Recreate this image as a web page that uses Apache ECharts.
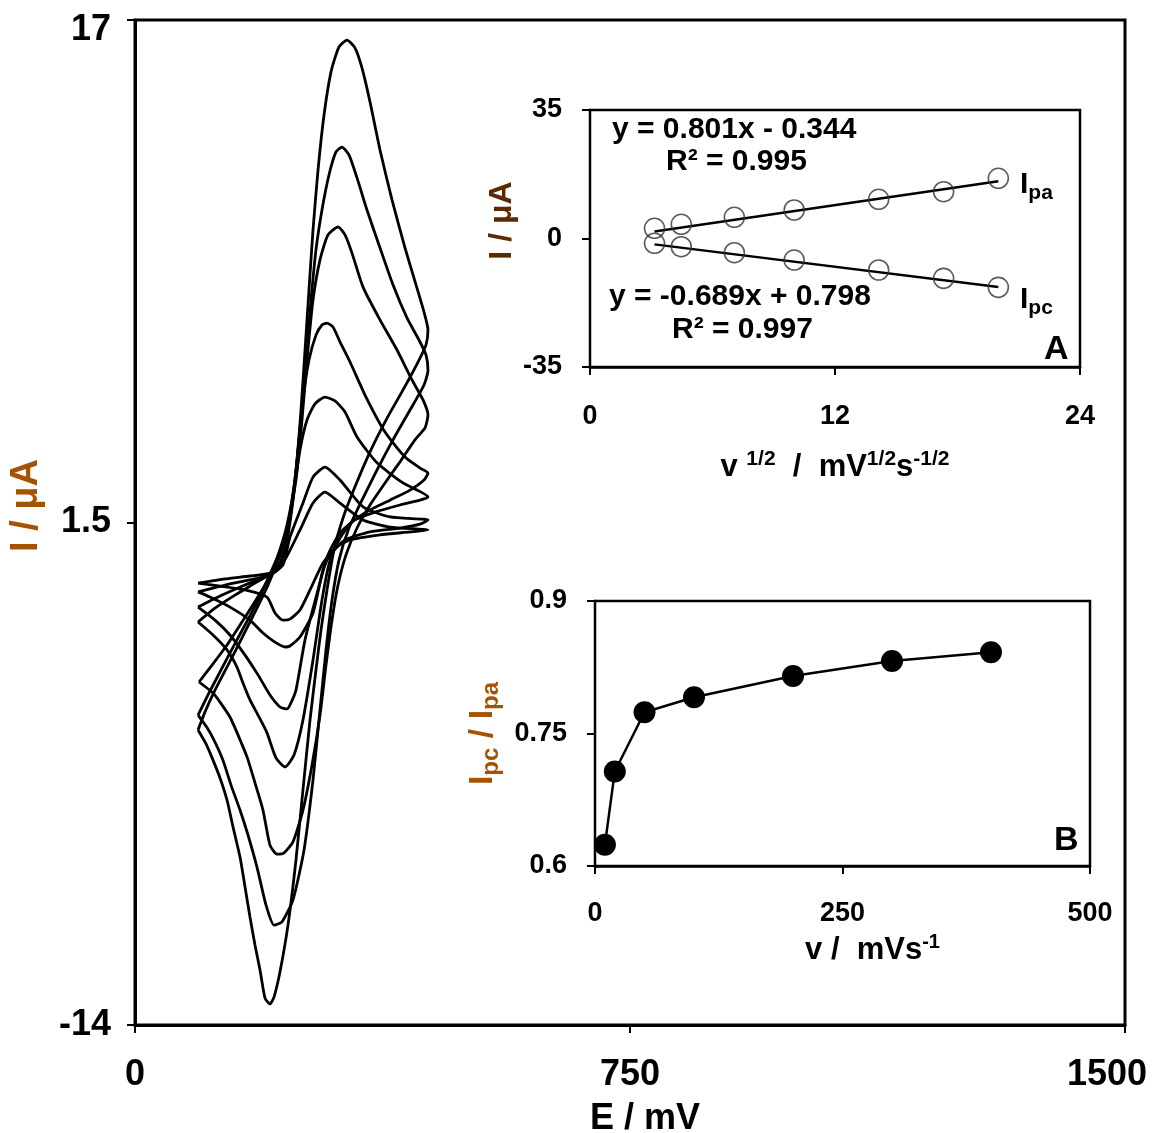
<!DOCTYPE html>
<html>
<head>
<meta charset="utf-8">
<title>CV</title>
<script src="https://cdn.jsdelivr.net/npm/echarts@6/dist/echarts.min.js"></script>
<style>html,body{margin:0;padding:0;background:#fff}#chart{width:1156px;height:1133px}</style>
</head>
<body>
<div id="chart"></div>
<script>
// main CV curves, [E / mV, I / uA], one closed loop per scan rate
var cv1 = [[95.5,-0.37],[136.4,-0.24],[174.2,-0.15],[204.5,-0.06],[224.2,0.25],[250,1.27],[269.7,2.10],[287.9,2.44],[310.6,2.10],[345.5,1.58],[386.4,1.36],[443.9,1.27],
  [416.7,1.21],[371.2,1.12],[325.8,0.96],[303,0.71],[284.8,0.25],[265.2,-0.58],[250,-1.20],[234.8,-1.48],[224.2,-1.51],[212.1,-1.29],[200,-0.80],[166.7,-0.58],[128.8,-0.46],[95.5,-0.37]];
var cv2 = [[95.5,-0.64],[136.4,-0.43],[174.2,-0.27],[204.5,-0.12],[224.2,0.19],[234.8,1.05],[254.5,2.10],[269.7,2.90],[287.9,3.21],[310.6,2.81],[345.5,1.98],[386.4,1.67],[443.9,1.58],
  [431.8,1.45],[401.5,1.33],[356.1,1.21],[318.2,0.96],[295.5,0.50],[284.8,0.04],[269.7,-1.29],[250,-2.03],[234.8,-2.31],[227.3,-2.34],[212.1,-2.19],[193.9,-1.91],[174.2,-1.51],[143.9,-1.11],[113.6,-0.80],[95.5,-0.64]];
var cv3 = [[95.5,-1.11],[128.8,-0.77],[166.7,-0.43],[197,-0.18],[215.2,0.04],[227.3,0.65],[239.4,2.29],[250,3.74],[260.6,4.66],[272.7,5.16],[287.9,5.37],[303,5.25],[318.2,4.91],[336.4,4.14],[366.7,3.34],[406.1,2.72],[443.9,2.29],
  [431.8,2.19],[401.5,2.04],[363.6,1.82],[333.3,1.58],[310.6,1.18],[292.4,0.50],[277.3,-0.58],[257.6,-2.12],[243.9,-3.67],[234.8,-4.13],[230.3,-4.25],[219.7,-4.19],[204.5,-3.82],[186.4,-3.20],[166.7,-2.59],[143.9,-1.97],[121.2,-1.51],[95.5,-1.11]];
var cv4 = [[95.5,-1.57],[121.2,-1.14],[151.5,-0.74],[181.8,-0.37],[204.5,-0.09],[219.7,0.25],[230.3,0.96],[239.4,2.19],[247,3.74],[254.5,5.28],[263.6,6.51],[274.2,7.28],[283.3,7.59],[290.9,7.65],[300,7.53],[310.6,7.07],[325.8,6.45],[350,5.37],[378.8,4.29],[409.1,3.52],[431.8,3.18],[443.9,3.03],
  [437.9,2.81],[416.7,2.50],[386.4,2.19],[356.1,1.89],[328.8,1.52],[310.6,1.02],[295.5,0.34],[283.3,-0.89],[269.7,-2.74],[254.5,-4.59],[240.9,-5.67],[227.3,-6.04],[213.6,-5.76],[200,-4.99],[186.4,-4.44],[174.2,-3.97],[163.6,-3.45],[154.5,-2.96],[139.4,-2.43],[118.2,-1.97],[95.5,-1.57]];
var cv5 = [[97,-3.42],[116.7,-2.90],[139.4,-2.28],[162.1,-1.57],[183.3,-0.89],[201.5,-0.27],[218.2,0.41],[231.8,1.42],[243.9,2.81],[253,4.66],[260.6,6.51],[269.7,8.36],[280.3,9.60],[292.4,10.37],[307.6,10.62],[318.2,10.37],[328.8,9.81],[345.5,8.76],[371.2,7.75],[397,6.82],[419.7,5.90],[436.4,5.28],[443.9,4.82],
  [439.4,4.42],[424.2,4.05],[401.5,3.37],[378.8,2.72],[356.1,2.04],[336.4,1.33],[319.7,0.50],[307.6,-0.43],[298.5,-1.51],[289.4,-2.90],[280.3,-4.44],[268.2,-5.98],[254.5,-7.37],[239.4,-8.35],[225.8,-8.69],[215.2,-8.73],[204.5,-8.45],[193.9,-7.37],[181.8,-6.53],[169.7,-5.73],[156,-5.05],[143.9,-4.50],[128.8,-4.04],[118.2,-3.76],[97,-3.42]];
var cv6 = [[95.5,-4.44],[110.6,-3.82],[131.8,-2.99],[154.5,-2.12],[177.3,-1.26],[197,-0.43],[215.2,0.41],[230.3,1.42],[242.4,2.81],[251.5,4.66],[259.1,6.51],[266.7,8.36],[274.2,9.91],[283.3,11.14],[293.9,12.22],[304.5,12.93],[313.6,13.08],[324.2,12.84],[336.4,12.13],[351.5,11.14],[369.7,10.06],[390.9,8.83],[412.1,7.81],[430.3,7.13],[440.9,6.67],[443.9,6.20],
  [437.9,5.74],[416.7,4.97],[390.9,4.05],[366.7,3.12],[343.9,2.19],[324.2,1.33],[309.1,0.34],[298.5,-0.89],[289.4,-2.43],[280.3,-4.28],[269.7,-6.44],[256.1,-8.60],[239.4,-10.14],[222.7,-10.82],[210.6,-10.92],[198.5,-10.30],[184.8,-9.13],[171.2,-8.14],[159.1,-7.37],[145.5,-6.60],[133.3,-5.83],[119.7,-5.21],[108.6,-4.81],[95.5,-4.44]];
var cv7 = [[95.5,-4.90],[106.1,-4.34],[121.2,-3.67],[140.9,-2.90],[162.1,-2.06],[183.3,-1.20],[201.5,-0.43],[219.7,0.50],[233.3,1.58],[243.9,3.12],[251.5,4.97],[257.6,6.82],[263.6,8.67],[269.7,10.52],[277.3,12.37],[286.4,14.07],[297,15.40],[309.1,16.17],[321.2,16.38],[333.3,16.14],[343.9,15.52],[356.1,14.47],[371.2,12.99],[389.4,11.45],[409.1,9.97],[425.8,8.83],[437.9,7.99],[443.9,7.44],
  [440.9,6.98],[428.8,6.45],[406.1,5.59],[380.3,4.66],[356.1,3.68],[333.3,2.60],[315.2,1.64],[301.5,0.65],[290.9,-0.58],[281.8,-1.82],[274.2,-3.05],[265.2,-4.59],[254.5,-6.75],[243.9,-8.91],[231.8,-10.92],[219.7,-12.36],[210.6,-13.14],[204.5,-13.35],[197,-13.17],[189.4,-12.30],[181.8,-11.53],[174.2,-10.67],[166.7,-9.74],[159.1,-8.82],[148.5,-7.89],[139.4,-7.06],[128.8,-6.38],[118.2,-5.83],[107.6,-5.33],[95.5,-4.90]];

// inset A: peak currents vs sqrt(scan rate)
var sqrtV = [3.16, 4.47, 7.07, 10, 14.14, 17.32, 20];
var ipa = [2.78, 3.87, 5.77, 7.76, 10.68, 12.75, 16.4];
var ipc = [-1.31, -2.23, -3.87, -5.86, -8.58, -10.85, -13.3];
var ipaFit = [[3.16, 1.9], [20, 15.6]];
var ipcFit = [[3.16, -1.6], [20, -13.2]];

// inset B: Ipc/Ipa vs scan rate
var scanRate = [10, 20, 50, 100, 200, 300, 400];
var ratio = [0.624, 0.707, 0.774, 0.791, 0.815, 0.832, 0.842];

var mainX = [0, 750, 1500], mainY = [-14, 1.5, 17];
var aX = [0, 12, 24], aY = [-35, 0, 35];
var bX = [0, 250, 500], bY = [0.6, 0.75, 0.9];

var FONT = 'Liberation Sans, Arial, sans-serif';
var BROWN = '#a65300';

function pairs(xs, ys) {
  return xs.map(function (x, i) { return [x, ys[i]]; });
}

function valAxis(idx, ticks, fs, margin, extra) {
  var ax = {
    type: 'value', gridIndex: idx,
    min: ticks[0], max: ticks[ticks.length - 1],
    splitLine: { show: false },
    axisLine: { show: true, onZero: false, lineStyle: { color: '#000', width: idx === 0 ? 3 : 2.5 } },
    axisTick: { show: true, inside: false, length: 8, customValues: ticks, lineStyle: { color: '#000', width: 2 } },
    axisLabel: { customValues: ticks, margin: margin, color: '#000', fontSize: fs, fontWeight: 'bold', fontFamily: FONT },
    nameLocation: 'middle'
  };
  for (var k in extra) ax[k] = extra[k];
  return ax;
}

var cvSeries = [cv1, cv2, cv3, cv4, cv5, cv6, cv7].map(function (d) {
  return {
    type: 'line', xAxisIndex: 0, yAxisIndex: 0, data: d,
    symbol: 'none', smooth: 0.2,
    lineStyle: { color: '#000', width: 2.8 }
  };
});

var chart = echarts.init(document.getElementById('chart'));
var option = {
  backgroundColor: '#fff',
  animation: false,
  grid: [
    { left: 135, top: 20, width: 990, height: 1005, outerBoundsMode: 'none', containLabel: false, show: true, borderColor: '#000', borderWidth: 3, backgroundColor: '#fff' },
    { left: 590, top: 110, width: 490, height: 257, outerBoundsMode: 'none', containLabel: false, show: true, borderColor: '#000', borderWidth: 2.5, backgroundColor: '#fff', z: 5 },
    { left: 595, top: 601, width: 495, height: 265, outerBoundsMode: 'none', containLabel: false, show: true, borderColor: '#000', borderWidth: 2.5, backgroundColor: '#fff', z: 5 }
  ],
  xAxis: [
    valAxis(0, mainX, 36, 32, {
      name: 'E / mV', nameGap: 76,
      nameTextStyle: { fontSize: 36, fontWeight: 'bold', color: '#000', fontFamily: FONT, padding: [0, 0, 0, 30] },
      axisLabel: {
        customValues: mainX, margin: 32, color: '#000', fontSize: 36, fontWeight: 'bold', fontFamily: FONT,
        formatter: function (v) { return v === 1500 ? '{m|1500}' : String(v); },
        rich: { m: { fontSize: 36, fontWeight: 'bold', fontFamily: FONT, color: '#000', padding: [0, 36, 0, 0] } }
      }
    }),
    valAxis(1, aX, 27, 36, {
      name: 'v {sup|1/2}  /  mV{sup|1/2}s{sup|-1/2}', nameGap: 82,
      nameTextStyle: {
        fontSize: 31, fontWeight: 'bold', color: '#000', fontFamily: FONT, lineHeight: 36,
        rich: { sup: { fontSize: 21, fontWeight: 'bold', fontFamily: FONT, color: '#000', verticalAlign: 'top', lineHeight: 36 } }
      }
    }),
    valAxis(2, bX, 27, 34, {
      name: 'v /  mVs{sup|-1}', nameGap: 66,
      nameTextStyle: {
        fontSize: 31, fontWeight: 'bold', color: '#000', fontFamily: FONT, lineHeight: 36, padding: [0, 0, 0, 60],
        rich: { sup: { fontSize: 20, fontWeight: 'bold', fontFamily: FONT, color: '#000', verticalAlign: 'top', lineHeight: 36 } }
      }
    })
  ],
  yAxis: [
    valAxis(0, mainY, 36, 24, {
      name: 'I / μA', nameGap: 89,
      nameTextStyle: { fontSize: 38, fontWeight: 'bold', color: BROWN, fontFamily: FONT, padding: [0, 0, 0, 34] },
      axisLabel: {
        customValues: mainY, margin: 24, color: '#000', fontSize: 36, fontWeight: 'bold', fontFamily: FONT,
        formatter: function (v) { return v === 17 ? '{t|17}' : String(v); },
        rich: { t: { fontSize: 36, fontWeight: 'bold', fontFamily: FONT, color: '#000', padding: [20, 0, 0, 0] } }
      }
    }),
    valAxis(1, aY, 27, 28, {
      name: 'I / μA', nameGap: 72,
      nameTextStyle: { fontSize: 32, fontWeight: 'bold', color: '#5a2a00', fontFamily: FONT, padding: [0, 0, 0, 36] }
    }),
    valAxis(2, bY, 27, 28, {
      name: 'I{sub|pc} / I{sub|pa}', nameGap: 92,
      nameTextStyle: {
        fontSize: 34, fontWeight: 'bold', color: BROWN, fontFamily: FONT, lineHeight: 40,
        rich: { sub: { fontSize: 24, fontWeight: 'bold', fontFamily: FONT, color: BROWN, verticalAlign: 'bottom', lineHeight: 40 } }
      }
    })
  ],
  series: cvSeries.concat([
    { type: 'line', xAxisIndex: 1, yAxisIndex: 1, data: ipaFit, symbol: 'none', lineStyle: { color: '#000', width: 2.5 }, z: 6 },
    { type: 'line', xAxisIndex: 1, yAxisIndex: 1, data: ipcFit, symbol: 'none', lineStyle: { color: '#000', width: 2.5 }, z: 6 },
    { type: 'scatter', xAxisIndex: 1, yAxisIndex: 1, data: pairs(sqrtV, ipa), symbol: 'circle', symbolSize: 20,
      itemStyle: { color: 'rgba(0,0,0,0)', borderColor: '#333', borderWidth: 1.6 }, z: 7 },
    { type: 'scatter', xAxisIndex: 1, yAxisIndex: 1, data: pairs(sqrtV, ipc), symbol: 'circle', symbolSize: 20,
      itemStyle: { color: 'rgba(0,0,0,0)', borderColor: '#333', borderWidth: 1.6 }, z: 7 },
    { type: 'line', xAxisIndex: 2, yAxisIndex: 2, data: pairs(scanRate, ratio), symbol: 'circle', symbolSize: 22,
      itemStyle: { color: '#000' }, lineStyle: { color: '#000', width: 2.5 }, z: 6 }
  ]),
  graphic: [
    { type: 'text', x: 612, y: 130, z: 10, style: { text: 'y = 0.801x - 0.344', font: 'bold 30px ' + FONT, fill: '#000', verticalAlign: 'middle' } },
    { type: 'text', x: 666, y: 162, z: 10, style: { text: 'R² = 0.995', font: 'bold 30px ' + FONT, fill: '#000', verticalAlign: 'middle' } },
    { type: 'text', x: 609, y: 297, z: 10, style: { text: 'y = -0.689x + 0.798', font: 'bold 30px ' + FONT, fill: '#000', verticalAlign: 'middle' } },
    { type: 'text', x: 672, y: 330, z: 10, style: { text: 'R² = 0.997', font: 'bold 30px ' + FONT, fill: '#000', verticalAlign: 'middle' } },
    { type: 'text', x: 1044, y: 350, z: 10, style: { text: 'A', font: 'bold 34px ' + FONT, fill: '#000', verticalAlign: 'middle' } },
    { type: 'text', x: 1054, y: 841, z: 10, style: { text: 'B', font: 'bold 34px ' + FONT, fill: '#000', verticalAlign: 'middle' } },
    { type: 'text', x: 1020, y: 182, z: 10, style: {
      text: '{b|I}{s|pa}', verticalAlign: 'middle',
      rich: { b: { font: 'bold 30px ' + FONT, fill: '#000', lineHeight: 36, verticalAlign: 'bottom' }, s: { font: 'bold 21px ' + FONT, fill: '#000', lineHeight: 36, verticalAlign: 'bottom', padding: [0, 0, -4, 0] } } } },
    { type: 'text', x: 1020, y: 297, z: 10, style: {
      text: '{b|I}{s|pc}', verticalAlign: 'middle',
      rich: { b: { font: 'bold 30px ' + FONT, fill: '#000', lineHeight: 36, verticalAlign: 'bottom' }, s: { font: 'bold 21px ' + FONT, fill: '#000', lineHeight: 36, verticalAlign: 'bottom', padding: [0, 0, -4, 0] } } } }
  ]
};
chart.setOption(option);
</script>
</body>
</html>
